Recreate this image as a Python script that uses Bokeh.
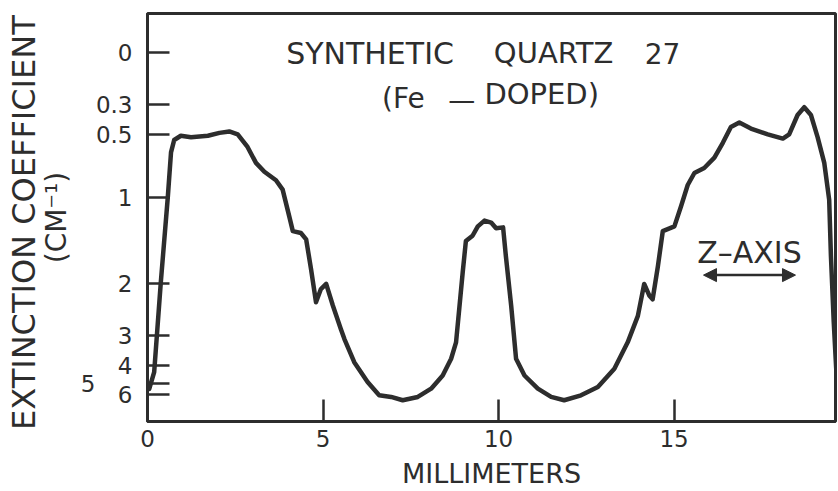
import numpy as np
from bokeh.plotting import figure
from bokeh.models import (Range1d, FixedTicker, Label, Arrow, NormalHead,
                          CustomJSTickFormatter, LinearAxis)
from bokeh.embed import file_html
from bokeh.resources import INLINE

# Slab thickness (cm) that makes the ordinate linear in transmission
THICKNESS_CM = 0.52

position_mm = [0.05, 0.19, 0.38, 0.58, 0.67, 0.76, 0.95, 1.24, 1.72, 2.05,
               2.33, 2.57, 2.85, 3.09, 3.33, 3.66, 3.85, 4.04, 4.14, 4.37,
               4.52, 4.66, 4.80, 4.94, 5.09, 5.28, 5.51, 5.61, 5.89, 6.27,
               6.60, 6.94, 7.27, 7.70, 8.08, 8.41, 8.65, 8.79, 8.88, 8.98,
               9.07, 9.26, 9.41, 9.60, 9.79, 9.93, 10.13, 10.21, 10.36, 10.50,
               10.74, 11.12, 11.50, 11.87, 12.35, 12.83, 13.30, 13.68, 13.97, 14.15,
               14.30, 14.39, 14.54, 14.68, 15.01, 15.20, 15.39, 15.58, 15.86, 16.15,
               16.39, 16.62, 16.86, 17.19, 17.67, 18.10, 18.28, 18.52, 18.71, 18.90,
               19.09, 19.28, 19.42, 19.47, 19.55, 19.62]
extinction = [5.4, 4.29, 1.97, 0.99, 0.63, 0.54, 0.51, 0.52, 0.51, 0.49,
              0.48, 0.50, 0.59, 0.71, 0.78, 0.85, 0.93, 1.18, 1.33, 1.35,
              1.42, 1.79, 2.30, 2.08, 2.00, 2.36, 2.85, 3.10, 3.85, 4.86,
              6.07, 6.29, 6.83, 6.29, 5.38, 4.47, 3.72, 3.19, 2.43, 1.83,
              1.44, 1.38, 1.28, 1.22, 1.24, 1.30, 1.29, 1.62, 2.36, 3.72,
              4.47, 5.38, 6.29, 6.83, 6.07, 5.23, 4.13, 3.19, 2.56, 2.00,
              2.19, 2.25, 1.75, 1.33, 1.28, 1.08, 0.89, 0.79, 0.75, 0.67,
              0.56, 0.45, 0.42, 0.46, 0.50, 0.53, 0.50, 0.37, 0.32, 0.37,
              0.52, 0.71, 1.02, 1.62, 2.69, 4.13]
y_tick_values = [0, 0.3, 0.5, 1, 2, 3, 4, 5, 6]
y_offset_tick = [5]          # the label drawn further to the left
x_tick_values = [0, 5, 10, 15]


def scale(k):
    return 1.0 - np.exp(-THICKNESS_CM * np.asarray(k, dtype=float))


def k_formatter(skip):
    return CustomJSTickFormatter(args=dict(d=THICKNESS_CM, skip=skip), code="""
        const k = Math.round(-Math.log(1 - tick) / d * 10) / 10;
        if (skip.includes(k)) { return ""; }
        return String(Math.abs(k));
    """)


INK = "#2d2d2d"
FONT = "DejaVu Sans"

p = figure(width=838, height=491, output_backend="svg", toolbar_location=None,
           x_range=Range1d(0, 19.6), y_range=Range1d(1.0306, -0.1083),
           min_border_left=147, min_border_right=3, min_border_top=13,
           min_border_bottom=68)
p.background_fill_color = "white"
p.border_fill_color = "white"
p.outline_line_color = INK
p.outline_line_width = 3
p.xgrid.visible = False
p.ygrid.visible = False

p.line(position_mm, scale(extinction), line_color=INK, line_width=4.5,
       line_join="round", line_cap="round")


def style_axis(ax):
    ax.axis_line_color = INK
    ax.axis_line_width = 3
    ax.major_tick_line_color = INK
    ax.major_tick_line_width = 2.5
    ax.major_tick_in = 22
    ax.major_tick_out = 0
    ax.minor_tick_line_color = None
    ax.major_label_text_font = FONT
    ax.major_label_text_color = INK
    ax.major_label_text_font_size = "23px"
    ax.axis_label_text_font = FONT
    ax.axis_label_text_color = INK
    ax.axis_label_text_font_style = "normal"


style_axis(p.xaxis[0])
style_axis(p.yaxis[0])

p.xaxis.ticker = FixedTicker(ticks=x_tick_values)
p.xaxis.major_label_standoff = 8
p.xaxis.axis_label = "MILLIMETERS"
p.xaxis.axis_label_text_font_size = "27px"
p.xaxis.axis_label_standoff = 8

p.yaxis.ticker = FixedTicker(ticks=[float(v) for v in scale(y_tick_values)])
p.yaxis.formatter = k_formatter(y_offset_tick)
p.yaxis.major_label_standoff = 15

# second left axis: the offset "5" label and the unit line of the title
ax5 = LinearAxis(ticker=FixedTicker(ticks=[float(v) for v in scale(y_offset_tick)]),
                 formatter=k_formatter([]))
style_axis(ax5)
ax5.axis_line_color = None
ax5.major_tick_line_color = None
ax5.major_label_standoff = -3
ax5.axis_label = "(CM\u207b\u00b9)"
ax5.axis_label_text_font_size = "28px"
ax5.axis_label_standoff = 5
p.add_layout(ax5, "left")

# outer left axis carrying the main y title
ax_t = LinearAxis(ticker=FixedTicker(ticks=[]))
style_axis(ax_t)
ax_t.axis_line_color = None
ax_t.major_tick_line_color = None
ax_t.major_label_standoff = 0
ax_t.axis_label = "EXTINCTION  COEFFICIENT"
ax_t.axis_label_text_font_size = "32px"
ax_t.axis_label_standoff = -6
p.add_layout(ax_t, "left")


def label(x, y, text, size, **kw):
    p.add_layout(Label(x=x, y=y, text=text, text_font=FONT, text_font_size=size,
                       text_color=INK, text_align="center",
                       text_baseline="middle", **kw))


# title
label(6.34, 0.003, "SYNTHETIC", "30px")
label(11.57, 0.003, "QUARTZ", "29px")
label(14.67, 0.003, "27", "28px")
label(7.29, 0.128, "(Fe", "28px")
label(8.95, 0.133, "\u2014", "27px")
label(11.23, 0.117, "DOPED)", "29px")

# z-axis annotation
label(17.15, 0.558, "Z\u2013AXIS", "30px")
p.add_layout(Arrow(x_start=15.84, y_start=0.622, x_end=18.46, y_end=0.622,
                   line_color=INK, line_width=2.5,
                   start=NormalHead(size=13, fill_color=INK, line_color=INK),
                   end=NormalHead(size=13, fill_color=INK, line_color=INK)))

open("out.html", "w").write(file_html(p, INLINE))
